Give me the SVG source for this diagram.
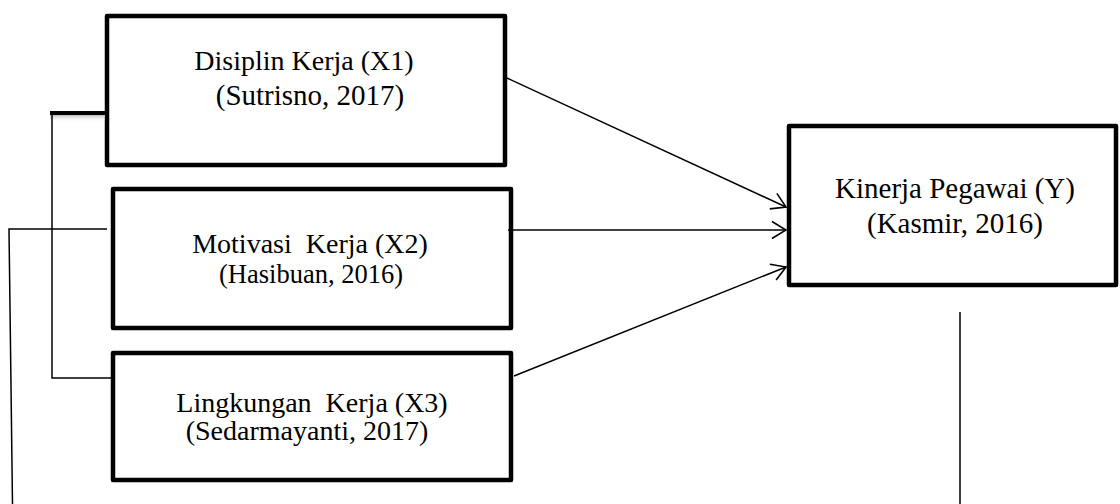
<svg xmlns="http://www.w3.org/2000/svg" width="1120" height="504" viewBox="0 0 1120 504">
<defs>
<style>
.box{fill:#fff;stroke:#000;stroke-width:4.5;stroke-linejoin:round}
.t{font-family:"Liberation Serif","Times New Roman",serif;fill:#000;text-anchor:middle;font-size:28px}
.s{font-size:26.5px}
.ln{stroke:#000;stroke-width:1.5;fill:none}
</style>
<linearGradient id="sh" x1="0" y1="0" x2="0" y2="1">
<stop offset="0" stop-color="#bbb"/>
<stop offset="1" stop-color="#fff" stop-opacity="0"/>
</linearGradient>
<marker id="ah" viewBox="0 0 16 20" refX="15" refY="10" markerWidth="16" markerHeight="20" markerUnits="userSpaceOnUse" orient="auto">
<path d="M1,1.5 L15,10 L1,18.5" fill="none" stroke="#000" stroke-width="1.6"/>
</marker>
</defs>
<g id="x1">
<rect class="box" x="107" y="16" width="398" height="149"/>
<text class="t" x="304" y="70">Disiplin Kerja (X1)</text>
<text class="t" x="310" y="105" style="font-size:29px">(Sutrisno, 2017)</text>
</g>
<g id="x2">
<rect class="box" x="113" y="189" width="398" height="139"/>
<text class="t" x="310" y="253" xml:space="preserve">Motivasi  Kerja (X2)</text>
<text class="t s" x="311" y="283">(Hasibuan, 2016)</text>
</g>
<g id="x3">
<rect class="box" x="113" y="353" width="398" height="127"/>
<text class="t" x="312" y="412" xml:space="preserve">Lingkungan  Kerja (X3)</text>
<text class="t" x="307" y="440">(Sedarmayanti, 2017)</text>
</g>
<g id="y">
<rect class="box" x="789" y="126" width="327" height="159"/>
<text class="t" x="955" y="198" style="font-size:29px">Kinerja Pegawai (Y)</text>
<text class="t" x="955" y="233" style="font-size:29px">(Kasmir, 2016)</text>
</g>
<g id="connectors">
<line class="ln" x1="507" y1="78" x2="786" y2="207" marker-end="url(#ah)"/>
<line class="ln" x1="508" y1="230" x2="786" y2="230" marker-end="url(#ah)"/>
<line class="ln" x1="514" y1="376" x2="786" y2="267" marker-end="url(#ah)"/>
<rect x="50" y="115" width="55" height="7" fill="url(#sh)"/>
<line x1="50" y1="113" x2="106" y2="113" stroke="#000" stroke-width="4"/>
<polyline class="ln" points="52,113 52,378 111,378"/>
<polyline class="ln" points="107,229 9,229 12.5,504"/>
<line class="ln" x1="960" y1="312" x2="960" y2="504"/>
</g>
</svg>
